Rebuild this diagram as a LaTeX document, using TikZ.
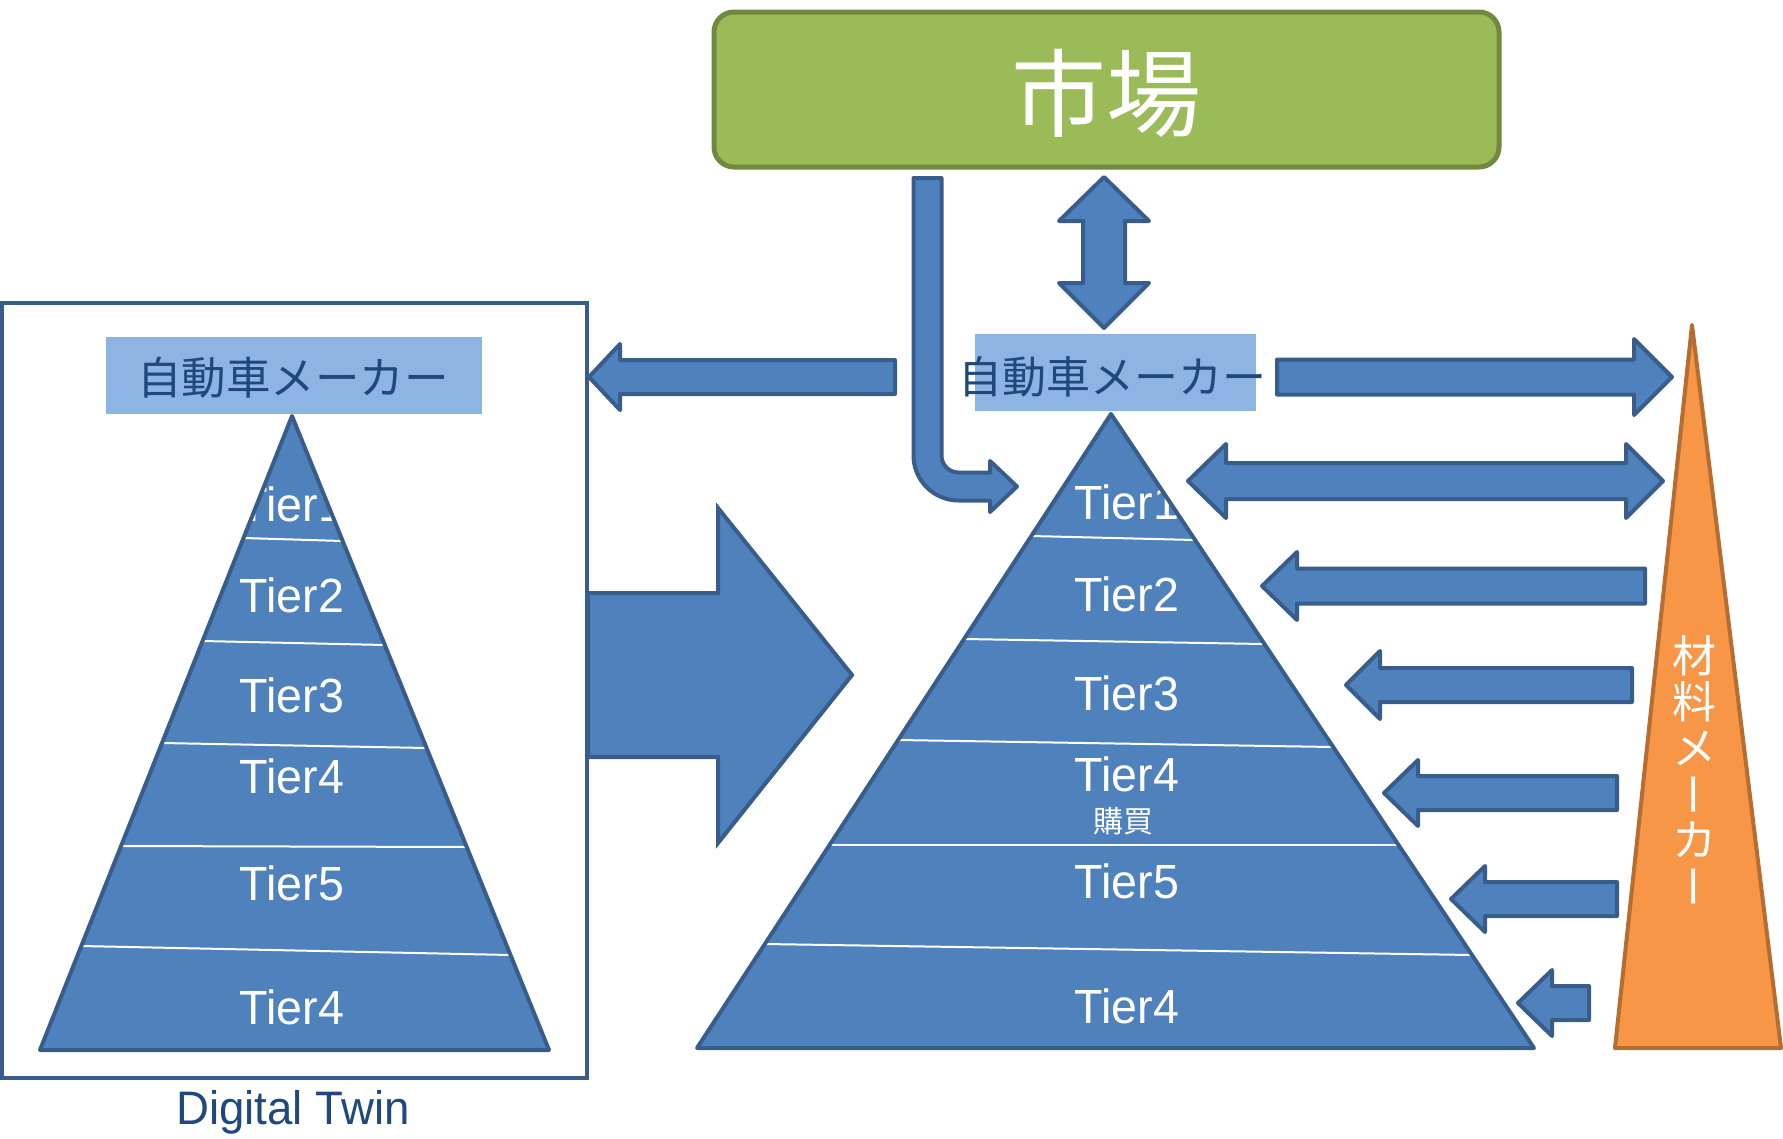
\documentclass[tikz,border=0pt]{standalone}
\usepackage{fontspec}
\usepackage{graphicx}
\setmainfont{Liberation Sans}
\newfontfamily\jpfont{Noto Sans CJK JP}
\newfontfamily\narrowfont[FakeStretch=0.97]{Liberation Sans}
\definecolor{blueF}{HTML}{4F81BD}
\definecolor{blueD}{HTML}{385D8A}
\definecolor{lblF}{HTML}{8EB4E3}
\definecolor{txtD}{HTML}{1F497D}
\definecolor{greenF}{HTML}{9BBB59}
\definecolor{greenD}{HTML}{71893F}
\definecolor{orF}{HTML}{F79646}
\definecolor{orD}{HTML}{B66D31}
\tikzset{
  barrow/.style={fill=blueF, draw=blueD, line width=4, line join=round},
  divider/.style={draw=white, line width=2},
  pyrline/.style={draw=blueD, line width=4, line join=round},
  tiertext/.style={text=white, inner sep=0, font=\narrowfont\fontsize{48}{48}\selectfont},
  lblbox/.style={fill=lblF, draw=none, inner sep=0},
  lbltext/.style={text=txtD, inner sep=0, font=\jpfont\fontsize{44}{44}\selectfont},
}
% horizontal block arrow: tail x, head-base x, tip x, y, shaft half, head half
\newcommand\myHArrow[6]{\draw[barrow] (#1,{#4-#5}) -- (#2,{#4-#5}) -- (#2,{#4-#6}) -- (#3,#4) -- (#2,{#4+#6}) -- (#2,{#4+#5}) -- (#1,{#4+#5}) -- cycle;}
% horizontal double arrow: tipL, baseL, baseR, tipR, y, shaft half, head half
\newcommand\myHDArrow[7]{\draw[barrow] (#1,#5) -- (#2,{#5-#7}) -- (#2,{#5-#6}) -- (#3,{#5-#6}) -- (#3,{#5-#7}) -- (#4,#5) -- (#3,{#5+#7}) -- (#3,{#5+#6}) -- (#2,{#5+#6}) -- (#2,{#5+#7}) -- cycle;}
% vertical double arrow: tipT, baseT, baseB, tipB, x, shaft half, head half
\newcommand\myVDArrow[7]{\draw[barrow] (#5,#1) -- ({#5+#7},#2) -- ({#5+#6},#2) -- ({#5+#6},#3) -- ({#5+#7},#3) -- (#5,#4) -- ({#5-#7},#3) -- ({#5-#6},#3) -- ({#5-#6},#2) -- ({#5-#7},#2) -- cycle;}
\newcommand\vbar{\rotatebox[origin=c]{90}{\vphantom{材}ー}}
\begin{document}
\begin{tikzpicture}[x=1pt, y=-1pt]
\useasboundingbox (0,0) rectangle (1783,1138);

% ---------- Digital twin frame ----------
\node[draw=blueD, line width=4, fill=white, minimum width=585, minimum height=775, inner sep=0] (frame) at (294.5,690.5) {};
\node[text=txtD, inner sep=0, font=\narrowfont\fontsize{47}{47}\selectfont] (dtwin) at (293,1112) {Digital Twin};

% left maker label
\node[lblbox, minimum width=376, minimum height=77] (makerL) at (294,375.5) {};
\node[lbltext, font=\jpfont\fontsize{44.5}{44.5}\selectfont] (makerLtext) at (293,378) {自動車メーカー};

% left pyramid
\coordinate (La) at (292,416);
\coordinate (Lbl) at (40,1050);
\coordinate (Lbr) at (549,1050);
\fill[blueF] (La) -- (Lbl) -- (Lbr) -- cycle;
\node[tiertext] (lt1) at (292,504) {Tier1};
\node[tiertext] (lt2) at (292,595) {Tier2};
\node[tiertext] (lt3) at (292,695) {Tier3};
\node[tiertext] (lt4) at (292,776) {Tier4};
\node[tiertext] (lt5) at (292,883) {Tier5};
\node[tiertext] (lt6) at (292,1007) {Tier4};
\draw[divider] (243.5,538) -- (342.7,541);
\draw[divider] (202.6,641) -- (384.8,645);
\draw[divider] (162,743) -- (426.6,748);
\draw[divider] (121,846) -- (466.7,847);
\draw[divider] (81.3,946) -- (510.5,955);
\draw[pyrline] (La) -- (Lbl) -- (Lbr) -- cycle;

% big arrow digital twin -> real
\draw[barrow, line join=miter] (588,593) -- (718,593) -- (718,508) -- (852,675) -- (718,843) -- (718,757) -- (588,757) -- cycle;

% arrow maker -> digital twin
\myHArrow{895}{620}{589}{377}{17}{33}

% ---------- market ----------
\node[fill=greenF, draw=greenD, line width=5, rounded corners=20, minimum width=785, minimum height=155, inner sep=0] (market) at (1106.5,89.5) {};
\node[text=white, inner sep=0, font=\jpfont\fontsize{95}{95}\selectfont] (markettext) at (1106,93) {市場};

% market <-> maker
\myVDArrow{177}{221}{283}{328}{1104}{21}{45}

% bent arrow market -> Tier1
\draw[barrow] (913.5,178) -- (941.5,178) -- (941.5,455.5)
  .. controls (941.5,464.9) and (949.1,472.5) .. (958.5,472.5)
  -- (990,472.5) -- (990,461) -- (1017,486.5) -- (990,512) -- (990,500.5) -- (958.5,500.5)
  .. controls (933.7,500.5) and (913.5,480.3) .. (913.5,455.5) -- cycle;

% right maker label
\node[lblbox, minimum width=281, minimum height=77] (makerR) at (1115,372.5) {};
\node[lbltext] (makerRtext) at (1112,377) {自動車メーカー};

% right pyramid
\coordinate (Ra) at (1111,414);
\coordinate (Rbl) at (697,1048);
\coordinate (Rbr) at (1534,1048);
\fill[blueF] (Ra) -- (Rbl) -- (Rbr) -- cycle;
\node[tiertext] (rt1) at (1127,502) {Tier1};
\node[tiertext] (rt2) at (1127,594) {Tier2};
\node[tiertext] (rt3) at (1127,693) {Tier3};
\node[tiertext] (rt4) at (1127,774) {Tier4};
\node[text=white, inner sep=0, font=\jpfont\fontsize{30}{30}\selectfont] (rbuy) at (1123,821) {購買};
\node[tiertext] (rt5) at (1127,881) {Tier5};
\node[tiertext] (rt6) at (1127,1006) {Tier4};
\draw[divider] (1031.3,536) -- (1195,540);
\draw[divider] (964,639) -- (1264.4,644);
\draw[divider] (898,740) -- (1333,747);
\draw[divider] (829.6,845) -- (1398.6,845);
\draw[divider] (765,944) -- (1472,955);
\draw[pyrline] (Ra) -- (Rbl) -- (Rbr) -- cycle;

% arrows right side
\myHArrow{1277}{1634}{1672}{377}{17.5}{38}
\myHDArrow{1188}{1226}{1626}{1663}{481}{18}{37}
\myHArrow{1645}{1297}{1262}{586}{17.5}{34}
\myHArrow{1632}{1380}{1346}{685}{17}{34}
\myHArrow{1617}{1418}{1384}{793}{17}{33}
\myHArrow{1617}{1485}{1451}{899}{17}{33}
\myHArrow{1589}{1552}{1518}{1003}{17}{33}

% material maker
\coordinate (Oa) at (1692,325);
\coordinate (Obl) at (1615,1048);
\coordinate (Obr) at (1781,1048);
\draw[fill=orF, draw=orD, line width=4, line join=round] (Oa) -- (Obl) -- (Obr) -- cycle;
\node[text=white, inner sep=0, align=center, font=\jpfont\fontsize{44}{46}\selectfont] (mat) at (1694,772)
  {材\\料\\メ\\\vbar\\カ\\\vbar};
\end{tikzpicture}
\end{document}
